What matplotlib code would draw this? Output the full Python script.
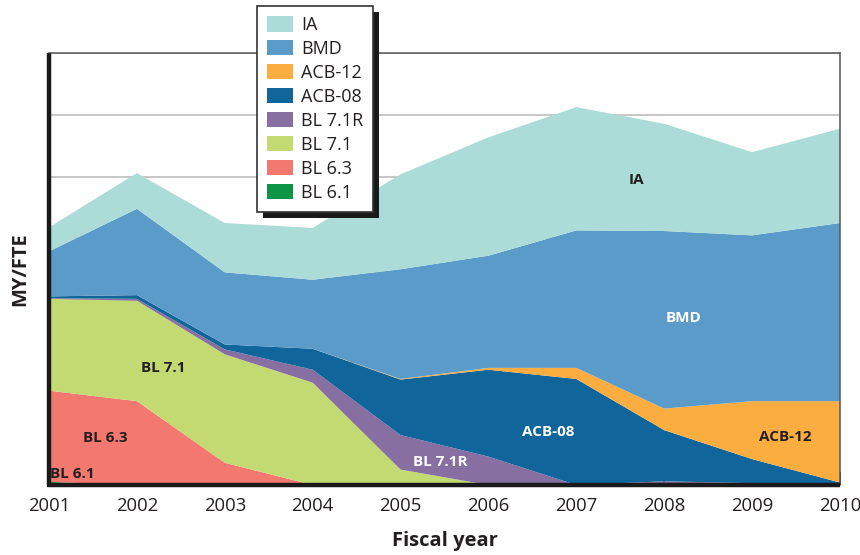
import matplotlib
matplotlib.use("Agg")
import matplotlib.pyplot as plt
from matplotlib.patches import Rectangle

plt.rcParams['font.family'] = ['Open Sans', 'DejaVu Sans']

years = [2001, 2002, 2003, 2004, 2005, 2006, 2007, 2008, 2009, 2010]
bl61 = [5, 0, 0, 0, 0, 0, 0, 0, 0, 0]
bl63 = [148, 136, 36, 0, 0, 0, 0, 0, 0, 0]
bl71 = [149, 163, 176, 166, 25, 0, 0, 0, 0, 0]
bl71r = [1, 3, 8, 21, 56, 46, 0, 6, 3, 0]
acb08 = [3, 6, 8, 34, 90, 141, 172, 83, 39, 4]
acb12 = [0, 0, 0, 0, 1, 3, 18, 35, 94, 132]
bmd = [73, 140, 117, 112, 178, 182, 223, 288, 269, 289]
ia = [39, 58, 80, 84, 154, 192, 200, 174, 135, 153]

names = ['BL 6.1', 'BL 6.3', 'BL 7.1', 'BL 7.1R', 'ACB-08', 'ACB-12', 'BMD', 'IA']
colors = ['#0d9444', '#f37870', '#c3da72', '#876fa2', '#10659a', '#fbad3f', '#5a9bc9', '#acdcd7']

dark = '#231f20'

fig = plt.figure(figsize=(8.6, 5.55), dpi=100)
ax = fig.add_axes([49 / 860, 70 / 555, 791 / 860, 431.5 / 555])

polys = ax.stackplot(years, bl61, bl63, bl71, bl71r, acb08, acb12, bmd, ia,
                     colors=colors, labels=names, linewidth=0)

ax.set_xlim(2001, 2010)
ax.set_ylim(0, 700)
ax.set_xticks(years)
ax.set_yticks(range(0, 701, 100))
ax.set_yticklabels([])
ax.tick_params(axis='y', length=0)
ax.tick_params(axis='x', direction='in', length=9.5, width=1.1, color='#222222',
               labelsize=13.3, pad=8.5, labelcolor=dark)
ax.set_axisbelow(True)
ax.grid(axis='y', color='#bdbdbd', linewidth=1.2)

# thick black left/bottom axis lines, thin grey top/right
ax.spines['left'].set_visible(False)
ax.spines['bottom'].set_visible(False)
ax.spines['top'].set_linewidth(1.1)
ax.spines['top'].set_color('#555555')
ax.spines['right'].set_linewidth(1.1)
ax.spines['right'].set_color('#555555')
ax.plot([0, 0], [0, 1], transform=ax.transAxes, color='#1a1a1a', lw=3.2,
        solid_capstyle='butt', clip_on=False, zorder=3)
ax.plot([-0.002, 1], [0, 0], transform=ax.transAxes, color='#1a1a1a', lw=3.2,
        solid_capstyle='butt', clip_on=False, zorder=3)

ax.set_xlabel('Fiscal year', fontsize=14.5, fontweight='bold', color=dark, labelpad=12)
ax.set_ylabel('MY/FTE', fontsize=14.5, fontweight='bold', color=dark, labelpad=10)

# labels inside the areas
ax.text(2007.68, 495, 'IA', fontsize=11, fontweight='bold', color=dark, ha='center', va='center')
ax.text(2008.22, 271, 'BMD', fontsize=11, fontweight='bold', color='white', ha='center', va='center')
ax.text(2009.38, 78, 'ACB-12', fontsize=11, fontweight='bold', color=dark, ha='center', va='center')
ax.text(2006.68, 86, 'ACB-08', fontsize=11, fontweight='bold', color='white', ha='center', va='center')
ax.text(2005.45, 37, 'BL 7.1R', fontsize=11, fontweight='bold', color='white', ha='center', va='center')
ax.text(2002.30, 190, 'BL 7.1', fontsize=11, fontweight='bold', color=dark, ha='center', va='center')
ax.text(2001.64, 76, 'BL 6.3', fontsize=11, fontweight='bold', color=dark, ha='center', va='center')
ax.text(2001.27, 18, 'BL 6.1', fontsize=11, fontweight='bold', color=dark, ha='center', va='center')

handles = polys[::-1]
labels = names[::-1]
leg = fig.legend(handles, labels, loc='upper left', bbox_to_anchor=(257 / 860, 1 - 6 / 555),
                 fontsize=13, frameon=True, fancybox=False, framealpha=1,
                 edgecolor='#333333', borderpad=0.55, labelspacing=0.33,
                 handlelength=1.45, handleheight=0.95, handletextpad=0.45,
                 borderaxespad=0)
leg.get_frame().set_linewidth(1.2)
for t in leg.get_texts():
    t.set_color(dark)
leg.set_zorder(6)

fig.canvas.draw()
bb = leg.get_frame().get_window_extent().transformed(fig.transFigure.inverted())
shadow = Rectangle((bb.x0 + 6 / 860, bb.y0 - 6 / 555), bb.width, bb.height,
                   transform=fig.transFigure, facecolor='#1a1a1a', edgecolor='none', zorder=5)
fig.add_artist(shadow)

fig.savefig('out.png', dpi=100)
